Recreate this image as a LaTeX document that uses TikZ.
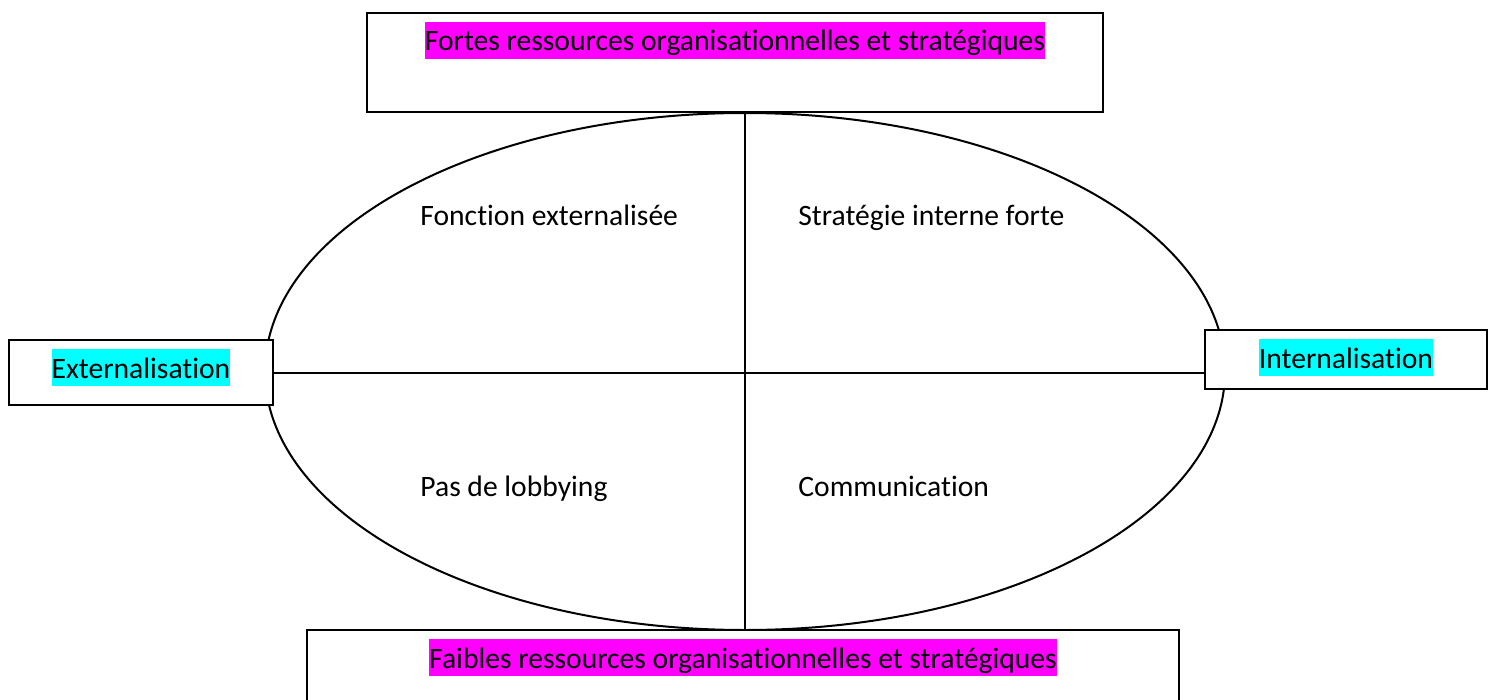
\documentclass[tikz,border=0pt]{standalone}
\usepackage{fontspec}
\setmainfont[RawFeature=-liga]{Carlito}
\usetikzlibrary{shapes.geometric}
\definecolor{hlmagenta}{RGB}{255,0,255}
\definecolor{hlcyan}{RGB}{0,255,255}
\tikzset{
  box/.style = {draw, rectangle, line width=1pt, fill=white,
                inner sep=0pt, outer sep=0pt},
  hl/.style  = {fill=#1, inner xsep=0pt, inner ysep=0pt,
                text height=14.5pt, text depth=4pt, anchor=base,
                font=\fontsize{14.8}{17}\selectfont},
  hl/.default = hlmagenta,
  quad/.style = {anchor=base west, inner sep=0pt,
                 font=\fontsize{14.8}{17}\selectfont}
}

\begin{document}
\begin{tikzpicture}[x=0.5pt, y=-0.5pt]
	\def \px{0.5pt}

	\useasboundingbox (0,0) rectangle (1493,700);

	% Ellipse
	\node[ellipse, draw, line width=1pt, inner sep=0pt, outer sep=0pt,
	      minimum width=960*\px, minimum height=517*\px] (ell) at (745,371.5) {};

	% Boxes
	\node[box, minimum width=736*\px, minimum height=99*\px]  (fortes)  at (735,62.5) {};
	\node[box, minimum width=872*\px, minimum height=80*\px]  (faibles) at (743,670)  {};
	\node[box, minimum width=264*\px, minimum height=65*\px]  (ext)     at (141,372.5) {};
	\node[box, minimum width=282*\px, minimum height=59*\px]  (int)     at (1346,359.5) {};

	% Axes
	\draw[line width=1pt] (ell.north) -- (ell.south);
	\draw[line width=1pt] (ext.east) -- (ext.east -| int.west);

	% Labels
	\node[hl=hlmagenta] (fortes_txt)  at (735,51)  {Fortes ressources organisationnelles et stratégiques};
	\node[hl=hlmagenta] (faibles_txt) at (743,668) {Faibles ressources organisationnelles et stratégiques};
	\node[hl=hlcyan]    (ext_txt)     at (141,378) {Externalisation};
	\node[hl=hlcyan]    (int_txt)     at (1346,368) {Internalisation};

	% Quadrants
	\node[quad] (q_fonction) at (420,226) {Fonction externalisée};
	\node[quad] (q_strat)    at (798,226) {Stratégie interne forte};
	\node[quad] (q_lobby)    at (420,496) {Pas de lobbying};
	\node[quad] (q_comm)     at (798,496) {Communication};

\end{tikzpicture}
\end{document}
